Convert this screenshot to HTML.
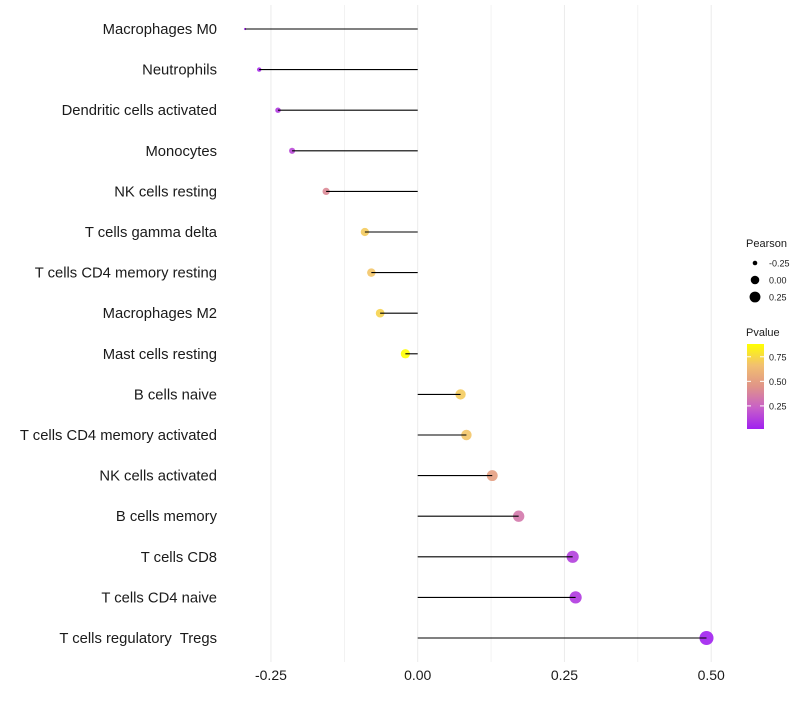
<!DOCTYPE html>
<html><head><meta charset="utf-8"><style>
body{margin:0;background:#fff;font-family:"Liberation Sans",sans-serif}
text{white-space:pre}
</style></head><body>
<svg id="c" width="800" height="700" font-family="Liberation Sans, sans-serif" xml:space="preserve"></svg>
<script>
const categories=["Macrophages M0","Neutrophils","Dendritic cells activated","Monocytes","NK cells resting","T cells gamma delta","T cells CD4 memory resting","Macrophages M2","Mast cells resting","B cells naive","T cells CD4 memory activated","NK cells activated","B cells memory","T cells CD8","T cells CD4 naive","T cells regulatory  Tregs"];
const pearson=[-0.294,-0.270,-0.238,-0.214,-0.156,-0.090,-0.079,-0.064,-0.021,0.073,0.083,0.127,0.172,0.264,0.269,0.492];
const pvalue=[0.02,0.05,0.10,0.15,0.40,0.70,0.68,0.73,0.88,0.70,0.68,0.50,0.33,0.12,0.10,0.02];
const xTicks=[-0.25,0,0.25,0.5];
const xTickLabels=["-0.25","0.00","0.25","0.50"];
const sizeLegend=[-0.25,0,0.25];
const colorTicks=[0.25,0.5,0.75];
const NS="http://www.w3.org/2000/svg";
const svg=document.getElementById('c');
function mk(t,a,p){const e=document.createElementNS(NS,t);for(const k in a)e.setAttribute(k,a[k]);(p||svg).appendChild(e);return e;}
const x=v=>417.7+v*587;
const y=i=>29+i*40.6;
const vMin=Math.min(...pearson),vMax=Math.max(...pearson);
const r=v=>{const t=Math.max(0,(v-vMin)/(vMax-vMin));return 1.17*(1+5*Math.sqrt(t));};
const pMin=0.015,pMax=0.88;
const stops=[[0,[160,32,240]],[0.25,[200,96,200]],[0.5,[224,148,136]],[0.75,[242,192,112]],[1,[255,255,0]]];
function col(p){let t=(p-pMin)/(pMax-pMin);t=Math.max(0,Math.min(1,t));for(let i=1;i<stops.length;i++){if(t<=stops[i][0]){const a=stops[i-1],b=stops[i];const f=(t-a[0])/(b[0]-a[0]);return 'rgb('+a[1].map((c,j)=>Math.round(c+(b[1][j]-c)*f)).join(',')+')';}}return 'rgb(255,255,0)';}
for(let k=-2;k<=4;k++){const v=k*0.125;const g=mk('line',{x1:x(v),x2:x(v),y1:5,y2:662,stroke:'#ebebeb','stroke-width':k%2===0?1:0.6});

}
xTicks.forEach((v,i)=>{const t=mk('text',{x:x(v),y:680,'text-anchor':'middle','font-size':14,fill:'#1a1a1a'});t.textContent=xTickLabels[i];

});
categories.forEach((c,i)=>{
const t=mk('text',{x:217,y:y(i)+5,'text-anchor':'end','font-size':14.8,fill:'#1a1a1a'});t.textContent=c;


const d=mk('circle',{cx:x(pearson[i]),cy:y(i),r:r(pearson[i]),fill:col(pvalue[i]),'fill-opacity':0.9});


const l=mk('line',{x1:x(0),x2:x(pearson[i]),y1:y(i),y2:y(i),stroke:'#000','stroke-width':1.1});


});
let tt=mk('text',{x:746,y:247,'font-size':11,fill:'#1a1a1a'});tt.textContent='Pearson';


sizeLegend.forEach((v,i)=>{const cy=263+i*17;const d=mk('circle',{cx:755,cy:cy,r:r(v)*0.9,fill:'#000'});


const t=mk('text',{x:769,y:cy+3.5,'font-size':9,fill:'#1a1a1a'});t.textContent=v===0?'0.00':v.toFixed(2);

});
tt=mk('text',{x:746,y:336,'font-size':11,fill:'#1a1a1a'});tt.textContent='Pvalue';


const defs=mk('defs',{});const lg=mk('linearGradient',{id:'g',x1:0,y1:1,x2:0,y2:0},defs);
stops.forEach(s=>mk('stop',{offset:s[0],'stop-color':'rgb('+s[1].join(',')+')'},lg));
const cb=mk('rect',{x:747,y:344,width:17,height:85,fill:'url(#g)'});


const cy=p=>429-(p-pMin)/(pMax-pMin)*85;
colorTicks.forEach(p=>{mk('line',{x1:747,x2:751,y1:cy(p),y2:cy(p),stroke:'#fff'});mk('line',{x1:760,x2:764,y1:cy(p),y2:cy(p),stroke:'#fff'});
const t=mk('text',{x:769,y:cy(p)+3.5,'font-size':9,fill:'#1a1a1a'});t.textContent=p.toFixed(2);

});
</script>
</body></html>
